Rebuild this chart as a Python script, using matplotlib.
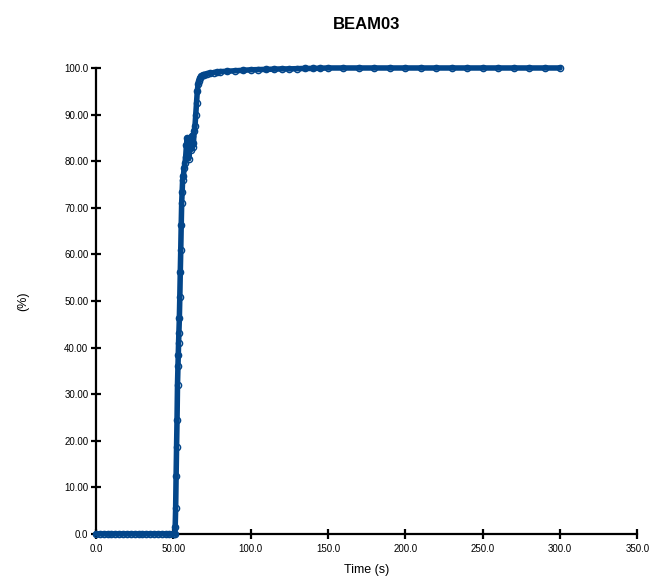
import matplotlib
matplotlib.use("Agg")
import matplotlib.pyplot as plt
from matplotlib.ticker import FixedLocator, FixedFormatter

plt.rcParams['font.family'] = ['Liberation Sans', 'DejaVu Sans']

# Beam response over time (percent)
time_s = [
    0.0, 2.5, 5.0, 7.5, 10.0, 12.5, 15.0, 17.5, 20.0, 22.5, 25.0, 27.5,
    30.0, 32.5, 35.0, 37.5, 40.0, 42.5, 45.0, 47.5, 50.0, 50.5, 51.0,
    51.2, 51.5, 51.8, 52.1, 52.4, 52.7, 53.0, 53.2, 53.4, 53.6, 53.9,
    54.2, 54.5, 54.8, 55.1, 55.4, 55.7, 56.0, 56.5, 57.0, 57.5, 58.0,
    58.5, 59.0, 59.5, 60.0, 60.5, 61.0, 61.5, 62.0, 62.5, 63.0, 63.5,
    64.0, 64.5, 65.0, 65.5, 66.0, 66.5, 67.0, 68.0, 69.0, 70.0, 72.0,
    74.0, 76.0, 78.0, 80.0, 85.0, 90.0, 95.0, 100.0, 105.0, 110.0, 115.0,
    120.0, 125.0, 130.0, 135.0, 140.0, 145.0, 150.0, 160.0, 170.0, 180.0,
    190.0, 200.0, 210.0, 220.0, 230.0, 240.0, 250.0, 260.0, 270.0, 280.0,
    290.0, 300.0,
]
percent = [
    0.0, 0.0, 0.0, 0.0, 0.0, 0.0, 0.0, 0.0, 0.0, 0.0, 0.0, 0.0,
    0.0, 0.0, 0.0, 0.0, 0.0, 0.0, 0.0, 0.0, 0.0, 0.0, 0.0,
    1.5, 5.5, 12.4, 18.7, 24.5, 32.0, 36.0, 38.4, 41.0, 43.1, 46.3,
    50.9, 56.2, 60.9, 66.3, 71.0, 73.4, 75.9, 76.8, 78.5, 79.5, 81.0,
    83.5, 85.0, 82.0, 80.5, 83.0, 84.5, 82.5, 85.5, 83.0, 84.0, 86.5,
    87.5, 90.0, 92.5, 95.0, 96.5, 97.3, 97.8, 98.2, 98.4, 98.6, 98.8,
    98.9, 99.0, 99.1, 99.2, 99.3, 99.4, 99.5, 99.6, 99.65, 99.7, 99.75,
    99.8, 99.8, 99.85, 99.9, 99.9, 99.95, 100.0, 100.0, 100.0, 100.0,
    100.0, 100.0, 100.0, 100.0, 100.0, 100.0, 100.0, 100.0, 100.0, 100.0,
    100.0, 100.0,
]

x_ticks = [0, 50, 100, 150, 200, 250, 300, 350]
x_tick_labels = ["0.0", "50.00", "100.0", "150.0", "200.0", "250.0", "300.0", "350.0"]
y_ticks = [0, 10, 20, 30, 40, 50, 60, 70, 80, 90, 100]
y_tick_labels = ["0.0", "10.00", "20.00", "30.00", "40.00", "50.00",
                 "60.00", "70.00", "80.00", "90.00", "100.0"]

line_color = "#03468a"

fig = plt.figure(figsize=(6.53, 5.81), dpi=100)
ax = fig.add_axes([0.147, 0.081, 0.829, 0.802])

ax.plot(time_s, percent, color=line_color, linewidth=4.0,
        marker="o", markersize=4.5, markerfacecolor="none",
        markeredgecolor=line_color, markeredgewidth=1.0,
        clip_on=False, zorder=3, solid_joinstyle="round",
        solid_capstyle="round")

ax.set_xlim(0, 350)
ax.set_ylim(0, 100)
ax.xaxis.set_major_locator(FixedLocator(x_ticks))
ax.xaxis.set_major_formatter(FixedFormatter(x_tick_labels))
ax.yaxis.set_major_locator(FixedLocator(y_ticks))
ax.yaxis.set_major_formatter(FixedFormatter(y_tick_labels))

for side in ("top", "right"):
    ax.spines[side].set_visible(False)
for side in ("left", "bottom"):
    ax.spines[side].set_linewidth(1.6)
    ax.spines[side].set_color("black")

ax.tick_params(axis="both", direction="inout", length=7, width=1.6,
               labelsize=7, colors="black")
ax.tick_params(axis="x", pad=4)
ax.tick_params(axis="y", pad=2)

ax.set_xlabel("Time (s)", fontsize=9, labelpad=7)
ax.set_ylabel("(%)", fontsize=9, labelpad=25)
ax.set_title("BEAM03", fontsize=12, fontweight="bold", pad=28)

fig.savefig("out.png", dpi=100)
